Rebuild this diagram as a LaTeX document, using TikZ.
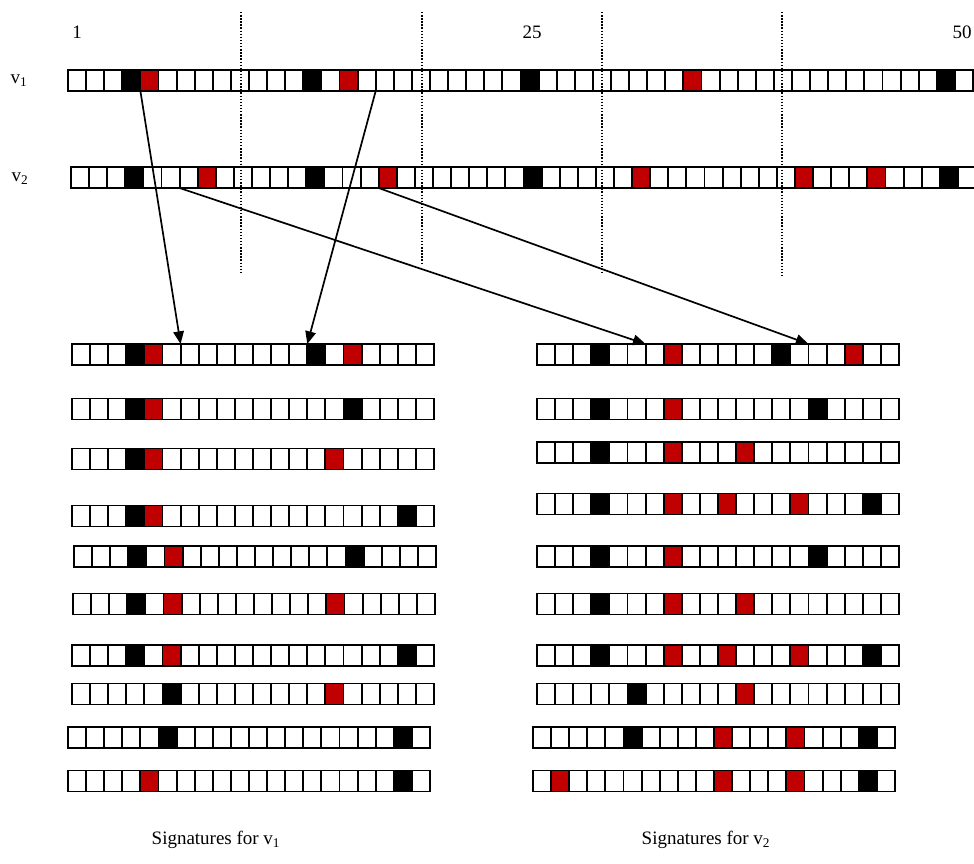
\documentclass[tikz,border=0pt]{standalone}
\usepackage{fontspec}
\setmainfont{Liberation Serif}
\usepackage{xcolor}
\usetikzlibrary{arrows.meta}
\definecolor{cellred}{HTML}{C00000}
\tikzset{
  cell/.style  = {draw=black, fill=white, line width=1.4pt, inner sep=0pt,
                  outer sep=0pt, minimum width=0.4525cm, minimum height=0.525cm},
  link/.style  = {-{Triangle[length=9pt, width=7.5pt]}, line width=1.2pt},
  guide/.style = {line width=1pt, dash pattern=on 1pt off 1.2pt},
  lbl/.style   = {font=\fontsize{13.5}{16}\selectfont, inner sep=0pt},
}
% name, left x, centre y, cells, coloured cells (index/colour)
\newcommand\cellrow[5]{%
  \foreach \i in {1,...,#4}
    \node[cell] (#1-\i) at ({#2+(\i-0.5)*18.1},#3) {};
  \foreach \i/\c in {#5}
    \node[cell, fill=\c] (#1f\i) at (#1-\i) {};
}

\begin{document}
\begin{tikzpicture}[x=0.025cm, y=-0.025cm]
  \useasboundingbox (0,0) rectangle (974,863);

  % positions
  \node[lbl] (p1)  at (77,32)  {1};
  \node[lbl] (p25) at (532,32) {25};
  \node[lbl] (p50) at (962,32) {50};

  % the two strings
  \node[lbl] (l1) at (19,81)  {v\textsubscript{1}};
  \node[lbl] (l2) at (20,179) {v\textsubscript{2}};
  \cellrow{va}{68}{80.5}{50}{4/black,5/cellred,14/black,16/cellred,26/black,35/cellred,49/black}
  \cellrow{vb}{71}{177.5}{50}{4/black,8/cellred,14/black,18/cellred,26/black,32/cellred,41/cellred,45/cellred,49/black}
  \foreach \x/\b in {241/272, 422/265, 602/272, 782/277}
    \draw[guide] (\x,12) -- (\x,\b);

  % signatures for v1
  \cellrow{sa1}{72}{354.5}{20}{4/black,5/cellred,14/black,16/cellred}
  \cellrow{sa2}{72}{409}{20}{4/black,5/cellred,16/black}
  \cellrow{sa3}{72}{459}{20}{4/black,5/cellred,15/cellred}
  \cellrow{sa4}{72}{516}{20}{4/black,5/cellred,19/black}
  \cellrow{sa5}{74}{556.5}{20}{4/black,6/cellred,16/black}
  \cellrow{sa6}{73}{604}{20}{4/black,6/cellred,15/cellred}
  \cellrow{sa7}{72}{655.5}{20}{4/black,6/cellred,19/black}
  \cellrow{sa8}{72}{694}{20}{6/black,15/cellred}
  \cellrow{sa9}{68}{737.5}{20}{6/black,19/black}
  \cellrow{sa10}{68}{781}{20}{5/cellred,19/black}

  % signatures for v2
  \cellrow{sb1}{537}{354.5}{20}{4/black,8/cellred,14/black,18/cellred}
  \cellrow{sb2}{537}{409}{20}{4/black,8/cellred,16/black}
  \cellrow{sb3}{537}{452.5}{20}{4/black,8/cellred,12/cellred}
  \cellrow{sb4}{537}{504}{20}{4/black,8/cellred,11/cellred,15/cellred,19/black}
  \cellrow{sb5}{537}{556.5}{20}{4/black,8/cellred,16/black}
  \cellrow{sb6}{537}{604}{20}{4/black,8/cellred,12/cellred}
  \cellrow{sb7}{537}{655.5}{20}{4/black,8/cellred,11/cellred,15/cellred,19/black}
  \cellrow{sb8}{537}{694}{20}{6/black,12/cellred}
  \cellrow{sb9}{533}{737.5}{20}{6/black,11/cellred,15/cellred,19/black}
  \cellrow{sb10}{533}{781}{20}{2/cellred,11/cellred,15/cellred,19/black}

  % windows picked into the first signatures
  \draw[link] (vaf5.south west) -- (sa1-7.north west);
  \draw[link] (va-18.south west) -- (sa1f14.north west);
  \draw[link] (vb-7.south west) -- (sb1-7.north west);
  \draw[link] (vbf18.south west) -- (sb1-16.north west);

  % captions
  \node[lbl] (ca) at (216,840) {Signatures for v\textsubscript{1}};
  \node[lbl] (cb) at (706,840) {Signatures for v\textsubscript{2}};
\end{tikzpicture}
\end{document}
